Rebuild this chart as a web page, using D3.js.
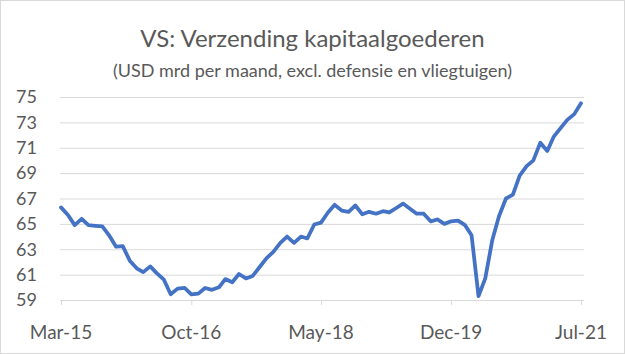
<!DOCTYPE html>
<html>
<head>
<meta charset="utf-8">
<script src="https://cdn.jsdelivr.net/npm/d3@7"></script>
<style>
  body { margin: 0; background: #fff; overflow: hidden; }
  svg { display: block; font-family: Lato, "Open Sans", sans-serif; }
</style>
</head>
<body>
<svg></svg>
<script>
const width = 625;
const height = 354;

// monthly shipments, Mar-15 .. Jul-21
const startMonth = new Date(2015, 2, 1);
const values = [
  66.3, 65.7, 64.9, 65.4, 64.9, 64.85, 64.8, 64.1, 63.2, 63.25,
  62.1, 61.5, 61.2, 61.65, 61.1, 60.6, 59.45, 59.9, 59.95, 59.45,
  59.5, 59.95, 59.8, 60.0, 60.65, 60.4, 61.05, 60.7, 60.9, 61.6,
  62.3, 62.8, 63.5, 64.0, 63.5, 64.0, 63.85, 64.95, 65.1, 65.9,
  66.5, 66.05, 65.95, 66.45, 65.75, 65.95, 65.8, 66.0, 65.9, 66.25,
  66.6, 66.2, 65.8, 65.8, 65.2, 65.35, 65.0, 65.2, 65.25, 64.9,
  64.1, 59.3, 60.7, 63.7, 65.6, 67.0, 67.3, 68.8, 69.55, 70.0,
  71.4, 70.75, 71.85, 72.55, 73.2, 73.65, 74.5
];
const xTickLabels = ['Mar-15', 'Oct-16', 'May-18', 'Dec-19', 'Jul-21'];
const yTicks = [59, 61, 63, 65, 67, 69, 71, 73, 75];

const title = 'VS: Verzending kapitaalgoederen';
const subtitle = '(USD mrd per maand, excl. defensie en vliegtuigen)';

const data = values.map((v, i) => ({
  date: new Date(startMonth.getFullYear(), startMonth.getMonth() + i, 1),
  value: v
}));
const xTickDates = xTickLabels.map((_, k) => data[k * 19].date);

const margin = {top: 97, right: 41, bottom: 54, left: 60};
const innerWidth = width - margin.left - margin.right;

const svg = d3.select('svg')
  .attr('width', width)
  .attr('height', height);

// outer chart border
svg.append('rect')
  .attr('x', 0.5).attr('y', 0.5)
  .attr('width', width - 1).attr('height', height - 1)
  .attr('fill', 'none')
  .attr('stroke', '#d9d9d9');

svg.append('text')
  .attr('x', width / 2).attr('y', 47)
  .attr('text-anchor', 'middle')
  .attr('font-size', 24)
  .attr('fill', '#595959')
  .text(title);

svg.append('text')
  .attr('x', width / 2).attr('y', 77)
  .attr('text-anchor', 'middle')
  .attr('font-size', 18)
  .attr('fill', '#595959')
  .text(subtitle);

// scales in page coordinates
const x = d3.scaleTime()
  .domain(d3.extent(data, d => d.date))
  .range([margin.left + 1, width - margin.right - 3]);

const y = d3.scaleLinear()
  .domain([59, 75])
  .range([height - margin.bottom, margin.top]);

// horizontal gridlines
const grid = svg.append('g')
  .attr('transform', `translate(${margin.left}, 0)`)
  .call(d3.axisLeft(y).tickValues(yTicks).tickSize(-innerWidth).tickFormat(''))
  .call(s => s.select('.domain').remove());
grid.selectAll('line').attr('stroke', '#d9d9d9');

// y labels
svg.append('g').selectAll('text')
  .data(yTicks)
  .join('text')
    .attr('x', 37)
    .attr('y', d => y(d))
    .attr('dy', '0.35em')
    .attr('text-anchor', 'end')
    .attr('font-size', 18)
    .attr('fill', '#595959')
    .text(d => d);

// bottom axis with tick marks
const xAxis = svg.append('g')
  .attr('transform', `translate(0, ${height - margin.bottom})`)
  .call(d3.axisBottom(x).tickValues(xTickDates)
    .tickFormat('').tickSizeInner(5).tickSizeOuter(0));
xAxis.select('.domain').attr('stroke', '#d9d9d9');
xAxis.selectAll('line').attr('stroke', '#d9d9d9');

// x labels
svg.append('g').selectAll('text')
  .data(xTickDates)
  .join('text')
    .attr('x', d => x(d))
    .attr('y', 339)
    .attr('text-anchor', 'middle')
    .attr('font-size', 19)
    .attr('fill', '#595959')
    .text((d, i) => xTickLabels[i]);

const line = d3.line()
  .x(d => x(d.date))
  .y(d => y(d.value));

svg.append('path')
  .datum(data)
  .attr('fill', 'none')
  .attr('stroke', '#4472c4')
  .attr('stroke-width', 3.75)
  .attr('stroke-linejoin', 'round')
  .attr('stroke-linecap', 'round')
  .attr('d', line);
</script>
</body>
</html>
